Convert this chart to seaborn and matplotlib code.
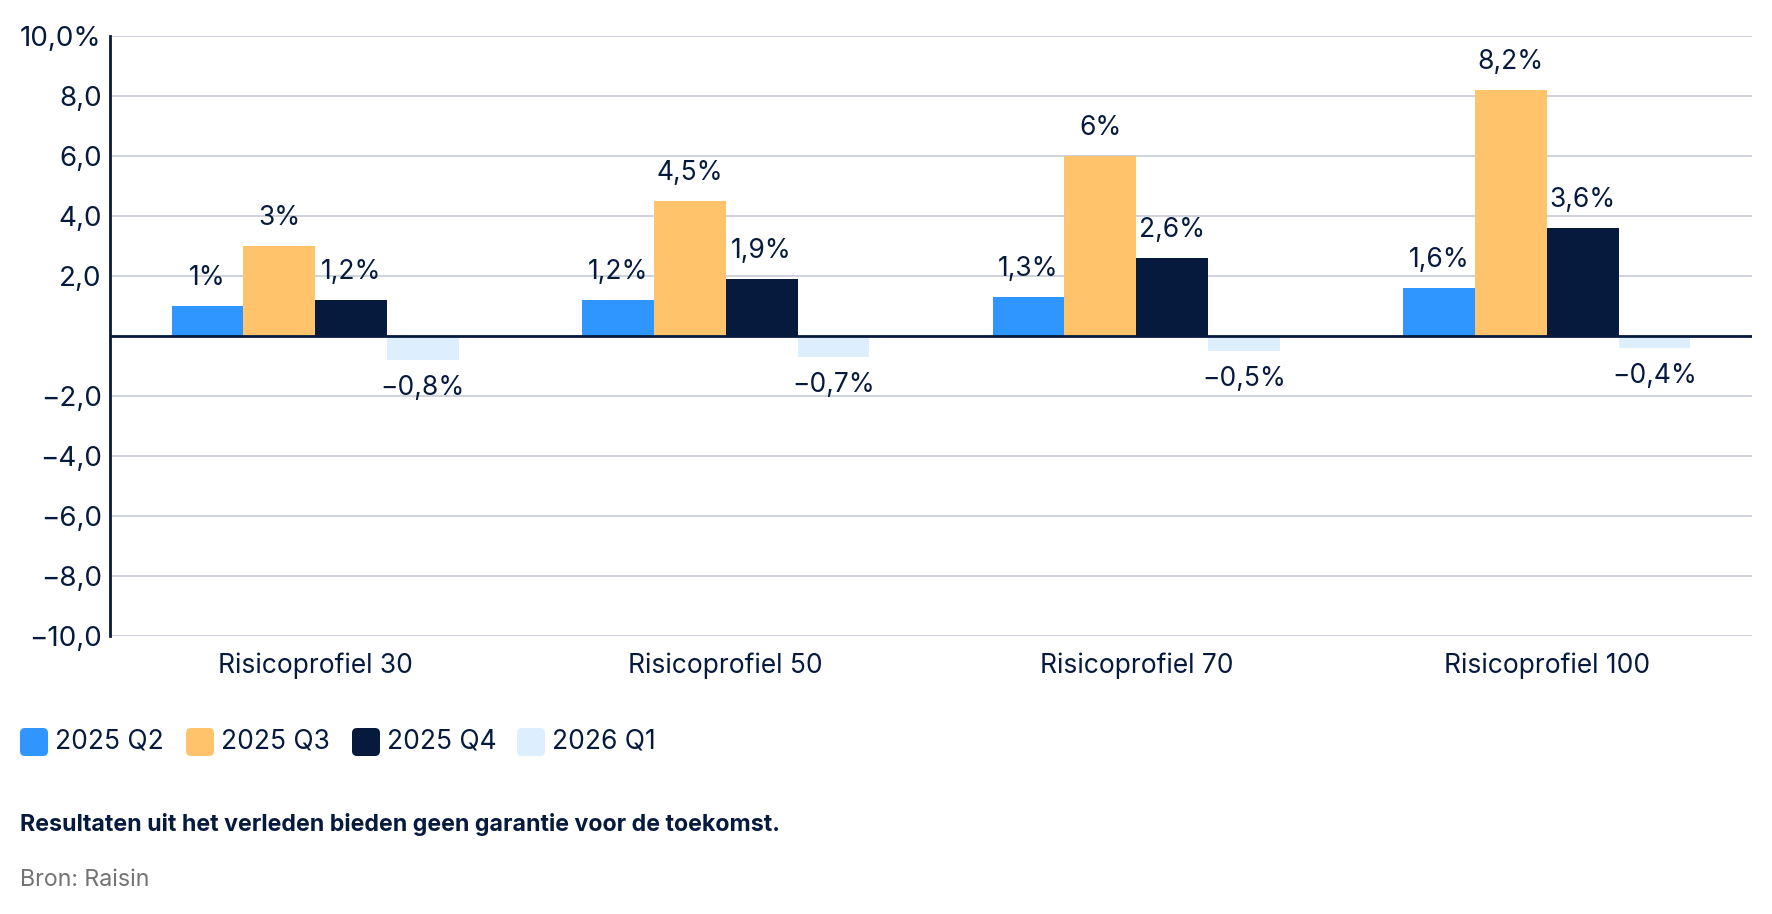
import numpy as np
import pandas as pd
import matplotlib
matplotlib.use("Agg")
import matplotlib.pyplot as plt
from matplotlib.patches import FancyBboxPatch
import seaborn as sns

# chart data
profiles = ["Risicoprofiel 30", "Risicoprofiel 50", "Risicoprofiel 70", "Risicoprofiel 100"]
quarters = ["2025 Q2", "2025 Q3", "2025 Q4", "2026 Q1"]
q2_2025 = [1.0, 1.2, 1.3, 1.6]
q3_2025 = [3.0, 4.5, 6.0, 8.2]
q4_2025 = [1.2, 1.9, 2.6, 3.6]
q1_2026 = [-0.8, -0.7, -0.5, -0.4]
yticks = [-10, -8, -6, -4, -2, 0, 2, 4, 6, 8, 10]
ytick_labels = ["\u221210,0", "\u22128,0", "\u22126,0", "\u22124,0", "\u22122,0", "",
                "2,0", "4,0", "6,0", "8,0", "10,0%"]
footnote = "Resultaten uit het verleden bieden geen garantie voor de toekomst."
source = "Bron: Raisin"

colors = ["#3096FF", "#FFC36B", "#061A3E", "#DDEEFF"]
navy = "#061A3E"

sns.set_style("white")
plt.rcParams["font.family"] = ["Inter", "DejaVu Sans"]


def fmt(v):
    s = f"{abs(v):.1f}".rstrip("0").rstrip(".").replace(".", ",")
    return ("\u2212" if v < 0 else "") + s + "%"


series = [q2_2025, q3_2025, q4_2025, q1_2026]
df = pd.DataFrame({
    "profile": profiles * len(quarters),
    "quarter": [q for q in quarters for _ in profiles],
    "value": [v for s in series for v in s],
})

fig = plt.figure(figsize=(17.72, 9.14), dpi=100)
ax = fig.add_axes([110 / 1772, 1 - 636 / 914, 1642 / 1772, 600 / 914])

sns.barplot(data=df, x="profile", y="value", hue="quarter", order=profiles,
            hue_order=quarters, palette=colors, width=0.7, gap=0,
            saturation=1, legend=False, ax=ax, errorbar=None, linewidth=0)

ax.set_ylim(-10, 10)
ax.set_xlim(-0.5, len(profiles) - 0.5)
ax.set_yticks(yticks)
ax.set_yticklabels(ytick_labels)
ax.set_xlabel("")
ax.set_ylabel("")
ax.yaxis.grid(True, color="#C8CBD6", linewidth=1.2)
ax.set_axisbelow(True)
ax.tick_params(axis="both", length=0, labelsize=19, colors=navy)
ax.tick_params(axis="y", pad=6, labelsize=20)
ax.tick_params(axis="x", pad=12)
for side in ["top", "right", "bottom"]:
    ax.spines[side].set_visible(False)
ax.spines["left"].set_color(navy)
ax.spines["left"].set_linewidth(2)
ax.axhline(0, color=navy, linewidth=2, zorder=3)

# value labels
for container, vals in zip(ax.containers, series):
    for bar, v in zip(container, vals):
        x = bar.get_x() + bar.get_width() / 2
        off = 20 if v >= 0 else -20
        ax.annotate(fmt(v), (x, v), xytext=(0, off), textcoords="offset points",
                    ha="center", va="center", fontsize=19, color=navy)

# legend with rounded swatches (positions in pixels)
H = 914
sw_x = [20, 186, 352, 517]
tx_x = [55, 221, 387, 552]
ly = 742
for c, q, sx, tx in zip(colors, quarters, sw_x, tx_x):
    p = FancyBboxPatch((sx / 100, (H - ly - 14) / 100), 0.28, 0.28,
                       boxstyle="round,pad=0,rounding_size=0.05",
                       transform=fig.dpi_scale_trans, facecolor=c,
                       edgecolor="none")
    fig.add_artist(p)
    fig.text(tx / 1772, 1 - ly / H, q, ha="left", va="center",
             fontsize=19, color=navy)

fig.text(20 / 1772, 1 - 824 / H, footnote, ha="left", va="center",
         fontsize=16.7, fontweight="bold", color=navy)
fig.text(20 / 1772, 1 - 880 / H, source, ha="left", va="center",
         fontsize=16.7, color="#737373")

fig.savefig("out.png", dpi=100)
